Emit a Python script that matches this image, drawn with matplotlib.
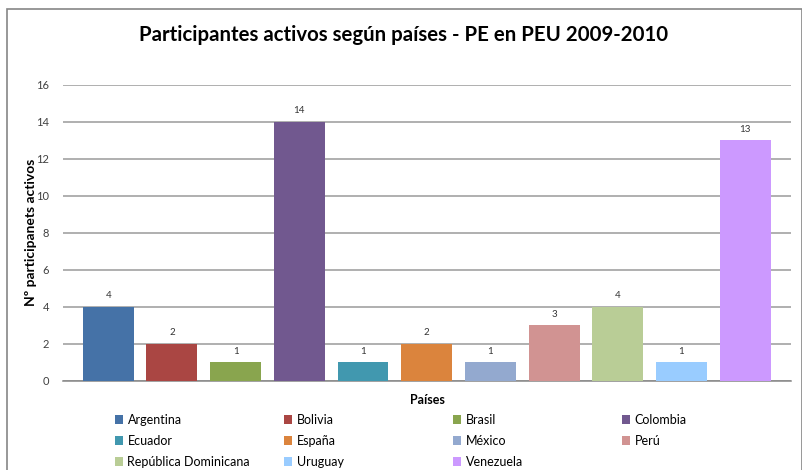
import matplotlib.pyplot as plt
from matplotlib.patches import Rectangle

plt.rcParams['font.family'] = ['Lato', 'DejaVu Sans']

# datos
paises = ['Argentina', 'Bolivia', 'Brasil', 'Colombia', 'Ecuador', 'España',
          'México', 'Perú', 'República Dominicana', 'Uruguay', 'Venezuela']
participantes = [4, 2, 1, 14, 1, 2, 1, 3, 4, 1, 13]
colores = ['#4572A7', '#AA4643', '#89A54E', '#71588F', '#4198AF', '#DB843D',
           '#93A9CF', '#D19392', '#B9CD96', '#99CCFF', '#CC99FF']
yticks = [0, 2, 4, 6, 8, 10, 12, 14, 16]

fig = plt.figure(figsize=(8.03, 4.70), dpi=100)
ax = fig.add_axes([63/803, 1 - 380.5/470, (791 - 63)/803, (380.5 - 84.5)/470])

# marco exterior del gráfico
fig.patches.append(Rectangle((7/803, -0.05), (802.5 - 7)/803, 1.05 - 9/470,
                             transform=fig.transFigure, fill=False,
                             edgecolor='#868686', linewidth=1.2))

barras = []
for i, (p, v, c) in enumerate(zip(paises, participantes, colores)):
    b = ax.bar(i, v, width=0.8, color=c, label=p, zorder=3)
    barras.append(b)
    ax.text(i, v + 0.35, str(v), ha='center', va='bottom', fontsize=7, color='#333333')

ax.set_xlim(-0.71, 10.72)
ax.set_ylim(0, 16)
ax.set_yticks(yticks)
ax.set_xticks([])
ax.tick_params(axis='y', length=0, labelsize=8, colors='#404040', pad=10)
ax.yaxis.grid(True, color='#9a9a9a', linewidth=1.1, zorder=0)
for s in ['top', 'right', 'left']:
    ax.spines[s].set_visible(False)
ax.spines['bottom'].set_color('#868686')
ax.spines['bottom'].set_linewidth(1.1)

ax.set_ylabel('Nº participanets activos', fontsize=10, fontweight='bold', labelpad=-1)
ax.set_xlabel('Países', fontsize=9, fontweight='bold', labelpad=10)
fig.text(0.5 * (140 + 667) / 803, 1 - 35/470,
         'Participantes activos según países - PE en PEU 2009-2010',
         ha='center', va='center', fontsize=14.7, fontweight='bold', color='black')

# leyenda en 4 columnas, orden por filas
xcols = [115, 284, 453, 622]
for c in range(4):
    idx = [i for i in range(len(paises)) if i % 4 == c]
    leg = fig.legend([barras[i] for i in idx], [paises[i] for i in idx],
                     loc='upper left', bbox_to_anchor=(xcols[c]/803, 1 - 414/470),
                     frameon=False, fontsize=9, handlelength=0.65, handleheight=0.65,
                     handletextpad=0.35, labelspacing=0.72, borderpad=0,
                     borderaxespad=0)

fig.savefig('out.png', dpi=100)
